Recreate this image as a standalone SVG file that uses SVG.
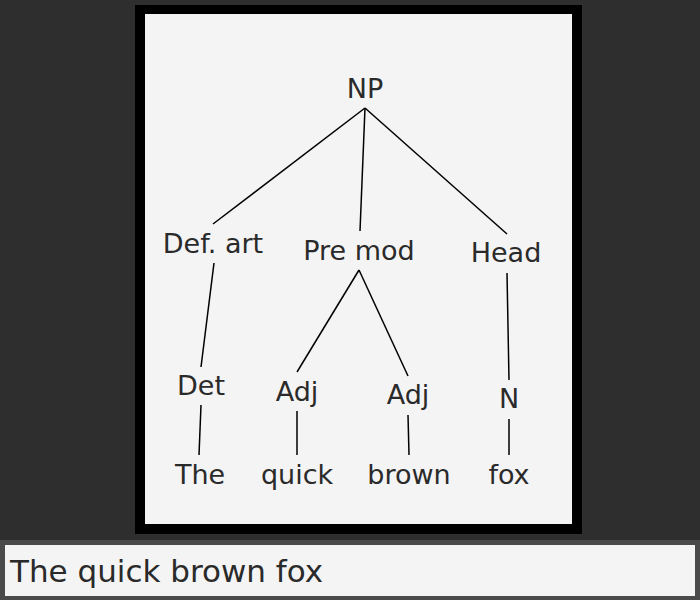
<svg xmlns="http://www.w3.org/2000/svg" width="700" height="600" viewBox="0 0 700 600">
<style>
.t{font-family:"DejaVu Sans","Liberation Sans",sans-serif;font-size:27px;fill:#2a2a2a;text-anchor:middle}
.b{font-family:"DejaVu Sans","Liberation Sans",sans-serif;font-size:31px;fill:#2a2a2a}
#edges line{stroke:#000;stroke-width:1.5;fill:none}
</style>
<rect x="0" y="0" width="700" height="600" fill="#2e2e2e"/>
<rect x="135" y="5" width="447" height="529" fill="#000"/>
<rect x="145" y="14" width="427" height="510" fill="#f4f4f4"/>
<rect x="0" y="540" width="700" height="60" fill="#4a4a4a"/>
<rect x="5" y="545" width="690" height="51" fill="#f4f4f4"/>
<g id="edges">
<line x1="365" y1="108" x2="213" y2="224"/>
<line x1="365" y1="108" x2="360" y2="231"/>
<line x1="365" y1="108" x2="507" y2="234"/>
<line x1="214" y1="263" x2="201" y2="367"/>
<line x1="201" y1="405" x2="199" y2="455"/>
<line x1="359" y1="270" x2="297" y2="372"/>
<line x1="359" y1="270" x2="408" y2="376"/>
<line x1="297" y1="411" x2="297" y2="455"/>
<line x1="408" y1="415" x2="409" y2="455"/>
<line x1="507" y1="273" x2="509" y2="380"/>
<line x1="509" y1="419" x2="509" y2="455"/>
</g>
<g id="np"><text class="t" x="365" y="98">NP</text></g>
<g id="defart"><text class="t" x="213" y="253">Def. art</text></g>
<g id="premod"><text class="t" x="359" y="260">Pre mod</text></g>
<g id="head"><text class="t" x="506" y="262">Head</text></g>
<g id="det"><text class="t" x="201" y="395">Det</text></g>
<g id="adj1"><text class="t" x="297" y="401">Adj</text></g>
<g id="adj2"><text class="t" x="408" y="404">Adj</text></g>
<g id="n"><text class="t" x="509" y="408">N</text></g>
<g id="the"><text class="t" x="200" y="484">The</text></g>
<g id="quick"><text class="t" x="297" y="484">quick</text></g>
<g id="brown"><text class="t" x="409" y="484">brown</text></g>
<g id="fox"><text class="t" x="509" y="484">fox</text></g>
<g id="caption"><text class="b" x="10" y="582">The quick brown fox</text></g>
</svg>
